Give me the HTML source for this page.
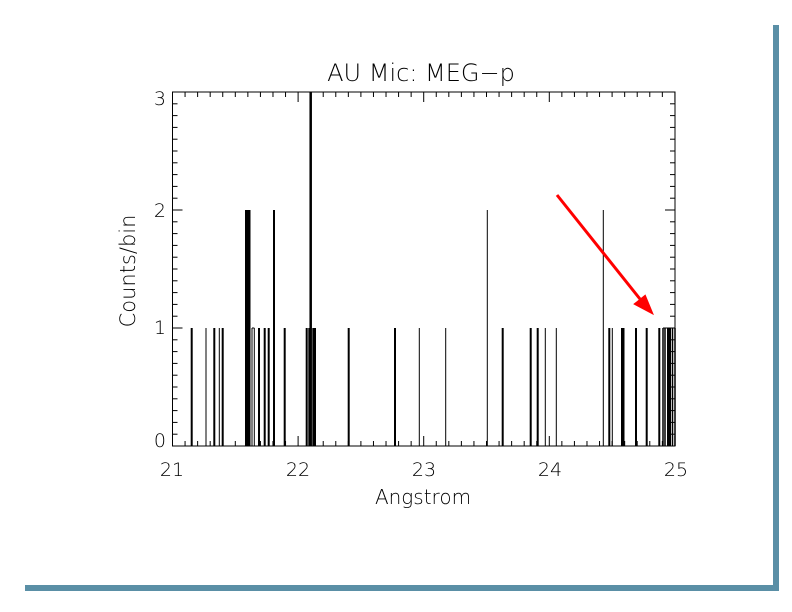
<!DOCTYPE html>
<html><head><meta charset="utf-8"><style>
html,body{margin:0;padding:0;background:#fff;}
svg{display:block;}
text{font-family:"DejaVu Sans","Liberation Sans",sans-serif;font-weight:200;}
</style></head><body>
<svg id="s" width="792" height="612" xmlns="http://www.w3.org/2000/svg">
<rect x="773" y="25" width="6" height="566" fill="#5a8fa6"/>
<rect x="25" y="585" width="754" height="6" fill="#5a8fa6"/>
<rect x="172.5" y="92" width="502.5" height="354" fill="none" stroke="#000" stroke-width="1"/>
<g id="ticks" stroke="#000" stroke-width="1"></g>
<g id="bars" stroke="#000"></g>
<text x="421" y="81" font-size="24" text-anchor="middle">AU Mic: MEG&#8722;p</text>
<text x="423" y="504" font-size="20" text-anchor="middle">Angstrom</text>
<text transform="translate(135,271) rotate(-90)" font-size="21" text-anchor="middle">Counts/bin</text>
<g font-size="19" text-anchor="middle">
<text x="172" y="476">21</text><text x="298" y="476">22</text><text x="424" y="476">23</text><text x="550" y="476">24</text><text x="676" y="476">25</text>
</g>
<g font-size="19" text-anchor="end">
<text x="166" y="447">0</text><text x="166" y="334">1</text><text x="166" y="217">2</text><text x="166" y="105">3</text>
</g>
<line x1="557" y1="195" x2="640" y2="299" stroke="#f00" stroke-width="3"/>
<polygon points="652,313 635,304 645,296" fill="#f00" stroke="#f00" stroke-width="2"/>
</svg>
<script>
var NS="http://www.w3.org/2000/svg";
function L(g,x1,y1,x2,y2,w){var l=document.createElementNS(NS,"line");l.setAttribute("x1",x1);l.setAttribute("y1",y1);l.setAttribute("x2",x2);l.setAttribute("y2",y2);if(w)l.setAttribute("stroke-width",w);g.appendChild(l);}
var t=document.getElementById("ticks");
for(var i=0;i<=40;i++){var x=172.5+i*125.6/10;var h=(i%10==0)?10:5;L(t,x,446,x,446-h);L(t,x,92,x,92+h);}
for(var i=0;i<=30;i++){var y=446-i*118/10;var h=(i%10==0)?10:5;L(t,172.5,y,172.5+h,y);L(t,675,y,675-h,y);}
var b=document.getElementById("bars");
var Y={1:328,2:210,3:92};
var bars=[[191.7,1,2],[206,1,1],[214.3,1,2],[219.3,1,1],[222.7,1,2],[246,2,2],[247.7,2,2],[249.5,2,2],[252,1,1],[254.3,1,1],[259,1,2],[264.7,1,2],[268.7,1,2],[274,2,2],[284.7,1,2],[306.7,1,2],[309.3,1,2],[310.7,3,2.5],[313.3,1,2],[315,1,2],[348.7,1,2],[395,1,2],[419.3,1,1],
[445.7,1,1],[487.3,2,1],[502.7,1,2],[530.7,1,2],[537.7,1,2],[545.3,1,1],[556.3,1,1],[603.3,2,1],[609.3,1,2],[612.3,1,1],[622,1,2],[623.5,1,2],[636,1,2],[646.7,1,2],[659.3,1,2],[663,1,1.5],[665,1,1.5],[668,1,2],[670,1,2],[672.5,1,1.5],[675,1,1.5]];
bars.forEach(function(d){L(b,d[0],446,d[0],Y[d[1]],d[2]);});
L(b,252,328,254.3,328,1);L(b,663,328,675,328,1);
</script>
</body></html>
